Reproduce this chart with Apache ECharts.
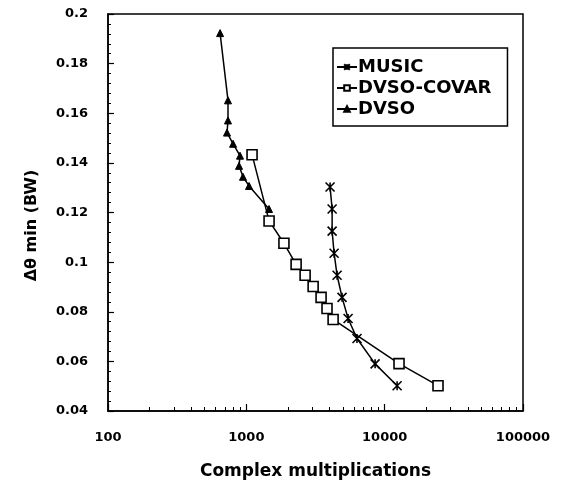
<!DOCTYPE html>
<html>
<head>
<meta charset="utf-8">
<script src="https://cdn.jsdelivr.net/npm/echarts@6/dist/echarts.min.js"></script>
<style>
  html, body { margin: 0; padding: 0; background: #fff; }
  #chart { width: 569px; height: 491px; }
</style>
</head>
<body>
<div id="chart"></div>
<script>
// Resolution threshold versus computational cost for three estimators
const seriesNames = ['MUSIC', 'DVSO-COVAR', 'DVSO'];

const musicX = [4030, 4170, 4170, 4310, 4530, 4920, 5440, 6310, 8530, 12300];
const musicY = [0.1303, 0.1214, 0.1125, 0.1036, 0.0947, 0.0858, 0.0773, 0.0692, 0.0590, 0.0502];

const covarX = [1100, 1460, 1870, 2290, 2660, 3040, 3470, 3830, 4240, 12700, 24300];
const covarY = [0.1433, 0.1166, 0.1076, 0.0991, 0.0947, 0.0902, 0.0858, 0.0813, 0.0769, 0.0591, 0.0502];

const dvsoX = [646, 737, 737, 725, 802, 900, 886, 946, 1046, 1459];
const dvsoY = [0.1923, 0.1652, 0.1571, 0.1522, 0.1477, 0.1429, 0.1388, 0.1344, 0.1307, 0.1214];

const xMin = 100, xMax = 100000;
const yMin = 0.04, yMax = 0.2, yStep = 0.02;

// log-spaced minor ticks (2..9 within each decade), expressed as decade exponents
const xMinorTicks = [];
for (let d = xMin; d < xMax; d *= 10) {
  for (let k = 2; k <= 9; k++) xMinorTicks.push(Math.log10(d * k));
}

const pair = (xs, ys) => xs.map((x, i) => [x, ys[i]]);

const FONT = 'DejaVu Sans';
const crossPath = 'path://M0,0L10,10M10,0L0,10M5,0L5,10';

const chart = echarts.init(document.getElementById('chart'), null, { renderer: 'canvas' });

chart.setOption({
  backgroundColor: '#fff',
  animation: false,
  grid: {
    left: 108, top: 14, right: 46, bottom: 80,
    show: true, borderColor: '#000', borderWidth: 1.5, backgroundColor: 'transparent'
  },
  legend: {
    data: seriesNames,
    orient: 'vertical',
    left: 333, top: 48,
    itemWidth: 20, itemHeight: 7, itemGap: 3,
    padding: [10, 16, 8, 3],
    borderColor: '#000', borderWidth: 1.5,
    backgroundColor: '#fff',
    textStyle: { fontFamily: FONT, fontSize: 18, fontWeight: 'bold', color: '#000', padding: [0, 0, 0, -4] }
  },
  xAxis: [
    {
      type: 'log', logBase: 10, min: xMin, max: xMax,
      name: 'Complex multiplications', nameLocation: 'middle', nameGap: 52,
      nameTextStyle: { fontFamily: FONT, fontSize: 17, fontWeight: 'bold', color: '#000' },
      axisLine: { lineStyle: { color: '#000', width: 1.5 } },
      axisTick: { inside: true, length: 7, lineStyle: { color: '#000', width: 1.2 } },
      axisLabel: {
        fontFamily: FONT, fontSize: 13, fontWeight: 'bold', color: '#000', margin: 20,
        formatter: (v) => String(Math.round(v))
      },
      splitLine: { show: false }
    },
    {
      // minor ticks, placed on a linear axis of decade exponents
      type: 'value', min: Math.log10(xMin), max: Math.log10(xMax), position: 'bottom',
      axisLine: { show: false },
      axisTick: { show: true, inside: true, length: 4, customValues: xMinorTicks, lineStyle: { color: '#000', width: 1 } },
      axisLabel: { show: false },
      splitLine: { show: false }
    }
  ],
  yAxis: {
    type: 'value', min: yMin, max: yMax, interval: yStep,
    name: 'Δθ min (BW)', nameLocation: 'middle', nameGap: 68, nameRotate: 90,
    nameTextStyle: { fontFamily: FONT, fontSize: 16, fontWeight: 'bold', color: '#000', padding: [0, 0, 0, -26] },
    axisLine: { show: true, lineStyle: { color: '#000', width: 1.5 } },
    axisTick: { show: true, inside: true, length: 6, lineStyle: { color: '#000', width: 1.2 } },
    minorTick: { show: true, splitNumber: 5, length: 3, lineStyle: { color: '#000', width: 1 } },
    axisLabel: { fontFamily: FONT, fontSize: 13, fontWeight: 'bold', color: '#000', margin: 20 },
    splitLine: { show: false }
  },
  series: [
    {
      name: seriesNames[0], type: 'line', data: pair(musicX, musicY),
      symbol: crossPath, symbolSize: 9,
      lineStyle: { color: '#000', width: 1.5 },
      itemStyle: { color: '#000', borderColor: '#000', borderWidth: 1.6 },
      z: 3
    },
    {
      name: seriesNames[1], type: 'line', data: pair(covarX, covarY),
      symbol: 'rect', symbolSize: 10,
      lineStyle: { color: '#000', width: 1.5 },
      itemStyle: { color: '#fff', borderColor: '#000', borderWidth: 1.6 },
      z: 4
    },
    {
      name: seriesNames[2], type: 'line', data: pair(dvsoX, dvsoY),
      symbol: 'triangle', symbolSize: 7,
      lineStyle: { color: '#000', width: 1.5 },
      itemStyle: { color: '#000', borderColor: '#000', borderWidth: 1 },
      z: 5
    }
  ]
});
</script>
</body>
</html>
